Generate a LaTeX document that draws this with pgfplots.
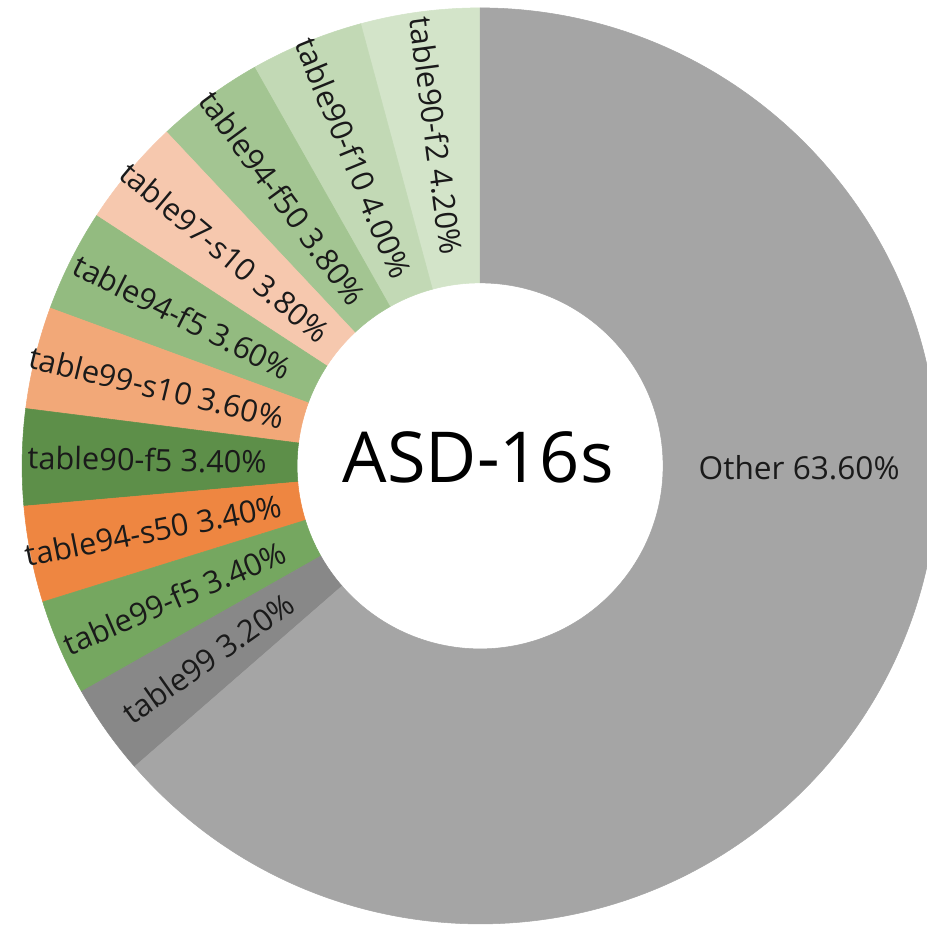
\documentclass[border=0pt]{standalone}
\usepackage{pgfplots}
\pgfplotsset{compat=1.18}
\usepackage{pgfplotstable}
\usetikzlibrary{calc}
\usepackage{fontspec}
\setmainfont{Open Sans}

% slice colours, in table order
\definecolor{slice0}{HTML}{D3E4C9}
\definecolor{slice1}{HTML}{C2D9B5}
\definecolor{slice2}{HTML}{A3C592}
\definecolor{slice3}{HTML}{F6C8AE}
\definecolor{slice4}{HTML}{93BB80}
\definecolor{slice5}{HTML}{F2A878}
\definecolor{slice6}{HTML}{5D8F49}
\definecolor{slice7}{HTML}{EE8641}
\definecolor{slice8}{HTML}{75A760}
\definecolor{slice9}{HTML}{888888}
\definecolor{slice10}{HTML}{A5A5A5}
\definecolor{labeltext}{HTML}{1A1A1A}

\pgfplotstableread[col sep=comma]{
name,value
table90-f2,4.20
table90-f10,4.00
table94-f50,3.80
table97-s10,3.80
table94-f5,3.60
table99-s10,3.60
table90-f5,3.40
table94-s50,3.40
table99-f5,3.40
table99,3.20
Other,63.60
}\slices

\begin{document}
\begin{tikzpicture}
\begin{axis}[
  x=0.02cm, y=0.02cm,
  xmin=0, xmax=927, ymin=0, ymax=925,
  hide axis, clip=false,
  anchor=origin, at={(0,0)},
]
\pgfplotsextra{%
  \coordinate (c) at (axis cs:480,459);
  \def\Rout{9.16cm}\def\Rin{3.66cm}\def\Rlab{6.66cm}
  \def\cum{0}
  \pgfplotsforeachungrouped \i in {0,...,10}{%
    \pgfplotstablegetelem{\i}{value}\of\slices \let\val\pgfplotsretval
    \pgfplotstablegetelem{\i}{name}\of\slices \let\nm\pgfplotsretval
    \pgfmathsetmacro\aS{90+3.6*\cum}
    \pgfmathsetmacro\cumNew{\cum+\val}
    \pgfmathsetmacro\aE{90+3.6*\cumNew}
    \pgfmathsetmacro\aM{(\aS+\aE)/2}
    \global\let\cum\cumNew
    \filldraw[fill=slice\i, draw=slice\i, line width=0.3pt]
      ($(c)+(\aS:\Rout)$) arc[start angle=\aS, end angle=\aE, radius=\Rout]
      -- ($(c)+(\aE:\Rin)$) arc[start angle=\aE, end angle=\aS, radius=\Rin]
      -- cycle;
    \ifnum\i<10
      \node[rotate=\aM-180, text=labeltext, font=\fontsize{17.5}{21}\selectfont, inner sep=0pt]
        at ($(c)+(\aM:\Rlab)$) {\nm\ \val\%};
    \else
      \node[text=labeltext, font=\fontsize{18}{22}\selectfont, inner sep=0pt]
        at (axis cs:799,457) {\nm\ \val\%};
    \fi
  }
  \node[text=black, font=\fontsize{40}{46}\selectfont, inner sep=0pt]
    at (axis cs:478,468) {ASD-16s};
}
\end{axis}
\pgfresetboundingbox
\useasboundingbox (0,0) rectangle (18.54cm,18.5cm);
\end{tikzpicture}
\end{document}
